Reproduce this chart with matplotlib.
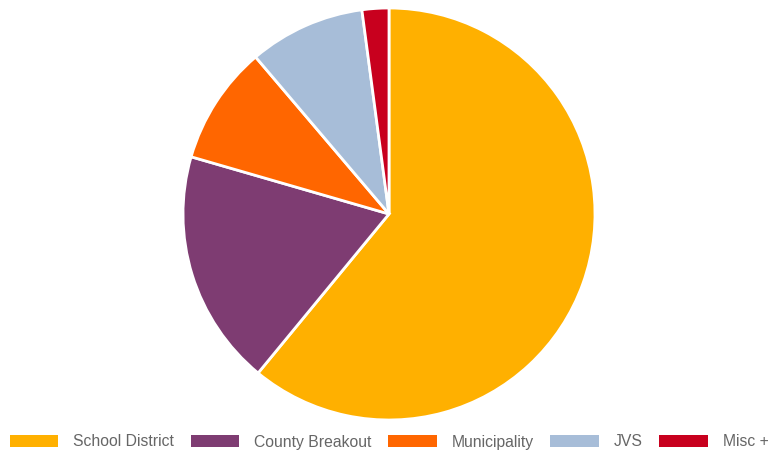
import matplotlib
matplotlib.use("Agg")
import matplotlib.pyplot as plt
from matplotlib.patches import Patch

plt.rcParams['font.family'] = ['Liberation Sans', 'DejaVu Sans']

labels = ["School District", "County Breakout", "Municipality", "JVS", "Misc +"]
values = [60.9, 18.5, 9.3, 9.1, 2.1]
colors = ["#FFB000", "#7E3C72", "#FF6600", "#A7BDD8", "#C8001E"]

fig = plt.figure(figsize=(7.71, 4.53), dpi=100)
ax = fig.add_axes([183 / 771, 33 / 453, 412 / 771, 412 / 453])
ax.pie(values, colors=colors, startangle=90, counterclock=False,
       wedgeprops=dict(edgecolor="white", linewidth=2))
ax.set_xlim(-1.0, 1.0)
ax.set_ylim(-1.0, 1.0)
ax.set_aspect("equal")
ax.axis("off")

handles = [Patch(facecolor=c, edgecolor="none") for c in colors]
leg = fig.legend(handles, labels, loc="center",
                 bbox_to_anchor=(0.5 + 3.5 / 771, 1 - 442 / 453),
                 ncol=5, frameon=False, fontsize=11.3, handlelength=3.1,
                 handleheight=0.75, handletextpad=0.95, columnspacing=1.05,
                 borderpad=0, borderaxespad=0)
for t in leg.get_texts():
    t.set_color("#666666")

fig.savefig("out.png", dpi=100)
